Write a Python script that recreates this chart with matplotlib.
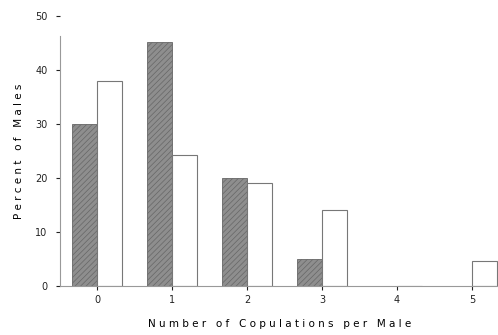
import numpy as np
import matplotlib
matplotlib.use('Agg')
import matplotlib.pyplot as plt

copulations = [0, 1, 2, 3, 4, 5]
shaded = [30, 45.2, 20, 5, 0, 0]
open_bars = [38, 24.2, 19, 14, 0, 4.6]

x = np.array(copulations)
w = 1 / 3

plt.rcParams['hatch.color'] = '#5a5a5a'
plt.rcParams['hatch.linewidth'] = 0.5

fig = plt.figure(figsize=(4.98, 3.35), dpi=100)
ax = fig.add_axes([0.1205, 0.146, 0.88, 0.806])

# shaded bars to the left of each tick, open bars to the right
ax.bar(x, shaded, width=-w, align='edge', color='#8e8e8e', edgecolor='#666666',
       linewidth=0.6, hatch='//////')
ax.bar(x, open_bars, width=w, align='edge', color='white',
       edgecolor='#777777', linewidth=0.8)

ax.set_xlim(-0.5, 5.35)
ax.set_ylim(0, 50)
ax.set_xticks(copulations)
ax.set_yticks([0, 10, 20, 30, 40, 50])
ax.tick_params(labelsize=7, colors='#222222', length=3, width=0.8)
ax.tick_params(axis='y', pad=6)
for s in ['top', 'right']:
    ax.spines[s].set_visible(False)
ax.spines['left'].set_bounds(0, 46.3)
ax.spines['left'].set_color('#999999')
ax.spines['bottom'].set_color('#999999')

ax.set_xlabel('N u m b e r   o f   C o p u l a t i o n s   p e r   M a l e',
              fontsize=7.5, labelpad=10)
ax.set_ylabel('P e r c e n t   o f   M a l e s', fontsize=7.5, labelpad=8)

fig.savefig('out.png', dpi=100)
